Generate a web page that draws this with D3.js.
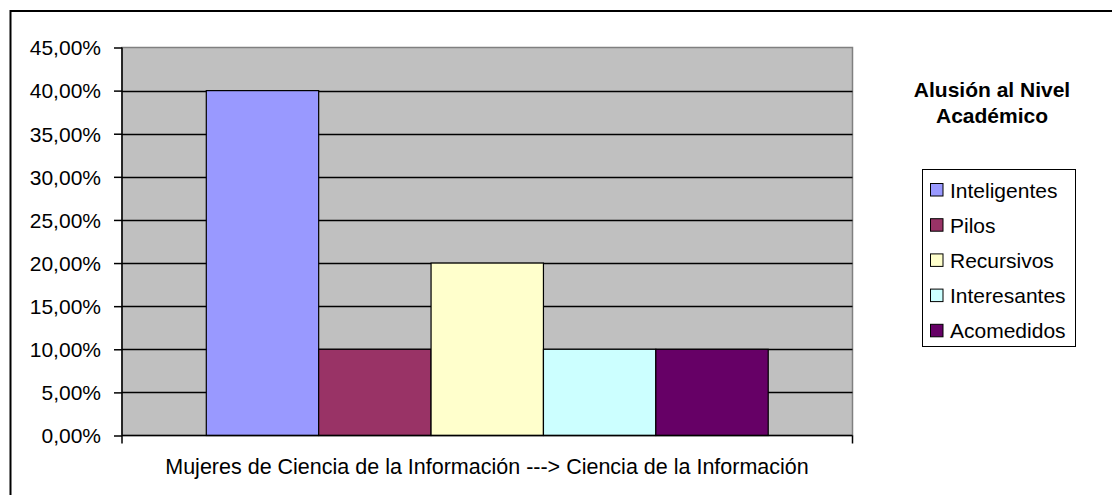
<!DOCTYPE html>
<html>
<head>
<meta charset="utf-8">
<script src="https://cdn.jsdelivr.net/npm/d3@7"></script>
<style>
  html, body { margin: 0; padding: 0; background: #fff; }
  svg { display: block; font-family: "Liberation Sans", Arial, sans-serif; }
</style>
</head>
<body>
<svg id="chart" width="1112" height="495"></svg>
<script>
const category = "Mujeres de Ciencia de la Información ---> Ciencia de la Información";
const seriesNames = ["Inteligentes", "Pilos", "Recursivos", "Interesantes", "Acomedidos"];
const seriesValues = [0.40, 0.10, 0.20, 0.10, 0.10];
const seriesColors = ["#9999FF", "#993366", "#FFFFCC", "#CCFFFF", "#660066"];
const yTicks = [0, 0.05, 0.10, 0.15, 0.20, 0.25, 0.30, 0.35, 0.40, 0.45];
const legendTitle = ["Alusión al Nivel", "Académico"];

const svg = d3.select("#chart");
const plot = { left: 122, right: 852.5, top: 47.5, bottom: 435.5 };

// outer chart frame (extends past right/bottom edges)
svg.append("rect").attr("x", 10.5).attr("y", 11).attr("width", 1200).attr("height", 600)
  .attr("fill", "#fff").attr("stroke", "#000").attr("stroke-width", 2);

const y = d3.scaleLinear().domain([0, 0.45]).range([plot.bottom, plot.top]);
const xCat = d3.scaleBand().domain([category]).range([plot.left, plot.right]).paddingInner(0).paddingOuter(0);
const groupW = xCat.bandwidth();
const barW = groupW / (seriesNames.length + 1.5);
const x = d3.scaleBand().domain(seriesNames)
  .range([xCat(category) + barW * 0.75, xCat(category) + groupW - barW * 0.75]).padding(0);

// plot background
svg.append("rect").attr("x", plot.left).attr("y", plot.top)
  .attr("width", plot.right - plot.left).attr("height", plot.bottom - plot.top)
  .attr("fill", "#C0C0C0").attr("stroke", "#808080").attr("stroke-width", 1.5);

// gridlines
svg.append("g").selectAll("line").data(yTicks.filter(t => t > 0 && t < 0.45)).join("line")
  .attr("x1", plot.left).attr("x2", plot.right)
  .attr("y1", d => Math.round(y(d)) + 0.5).attr("y2", d => Math.round(y(d)) + 0.5)
  .attr("stroke", "#000").attr("stroke-width", 1.5);

// bars
svg.append("g").selectAll("rect").data(seriesNames).join("rect")
  .attr("x", d => x(d)).attr("width", x.bandwidth())
  .attr("y", (d, i) => y(seriesValues[i])).attr("height", (d, i) => y(0) - y(seriesValues[i]))
  .attr("fill", (d, i) => seriesColors[i]).attr("stroke", "#000").attr("stroke-width", 1.2);

// y axis
const yAxis = d3.axisLeft(y).tickValues(yTicks).tickSize(8).tickPadding(13)
  .tickFormat(d => (d * 100).toFixed(2).replace(".", ",") + "%");
const yg = svg.append("g").attr("transform", `translate(${plot.left},0)`).call(yAxis);
yg.select(".domain").attr("stroke", "#000").attr("stroke-width", 1.5).attr("d", `M0,${plot.top}V${plot.bottom}`);
yg.selectAll(".tick line").attr("stroke", "#000").attr("stroke-width", 1.5);
yg.selectAll(".tick text").attr("fill", "#000").attr("dy", "0.35em").style("font-size", "21px")
  .style("font-family", "'Liberation Sans', Arial, sans-serif");

// x axis
const xAxis = d3.axisBottom(xCat).tickSize(0).tickFormat(() => "");
const xg = svg.append("g").attr("transform", `translate(0,${plot.bottom})`).call(xAxis);
xg.select(".domain").attr("stroke", "#000").attr("stroke-width", 1.5).attr("d", `M${plot.left},0H${plot.right}`);
xg.selectAll(".edge").data([plot.left, plot.right]).join("line").attr("class", "edge")
  .attr("x1", d => d).attr("x2", d => d).attr("y1", 0).attr("y2", 8)
  .attr("stroke", "#000").attr("stroke-width", 1.5);
svg.append("text").attr("x", 487).attr("y", 474)
  .attr("text-anchor", "middle").style("font-size", "21.5px").attr("fill", "#000").text(category);

// legend title
svg.append("g").selectAll("text").data(legendTitle).join("text")
  .attr("x", 992).attr("y", (d, i) => 97 + i * 26).attr("text-anchor", "middle")
  .style("font-size", "21px").style("font-weight", "bold").attr("fill", "#000").text(d => d);

// legend
svg.append("rect").attr("x", 922.5).attr("y", 169.5).attr("width", 153).attr("height", 177)
  .attr("fill", "#fff").attr("stroke", "#000").attr("stroke-width", 1);
const lg = svg.append("g").selectAll("g").data(seriesNames).join("g")
  .attr("transform", (d, i) => `translate(930, ${190 + i * 35.2})`);
lg.append("rect").attr("x", 0.5).attr("y", -6.5).attr("width", 12.5).attr("height", 12.5)
  .attr("fill", (d, i) => seriesColors[i]).attr("stroke", "#000").attr("stroke-width", 1);
lg.append("text").attr("x", 20).attr("y", 7.5).style("font-size", "21px").attr("fill", "#000").text(d => d);
</script>
</body>
</html>
